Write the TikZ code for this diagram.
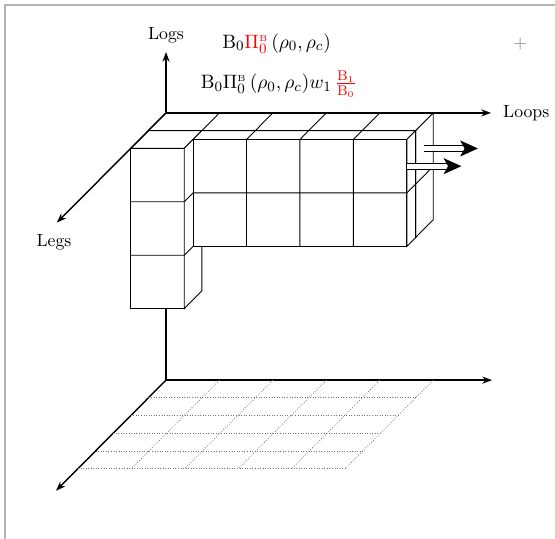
\documentclass[tikz,border=0pt]{standalone}
\usepackage{amsmath,amssymb}
\usetikzlibrary{arrows.meta}

\begin{document}
\begin{tikzpicture}[x={(30.2pt,0pt)},y={(-9.95pt,-10pt)},z={(0pt,30.2pt)},
  axis/.style={line width=.8pt,-{Stealth[length=5.5pt,width=4pt]}},
  face/.style={draw,fill=white,line width=.5pt},
  edge/.style={line width=.5pt},
  gridline/.style={black!55,densely dotted,line width=.45pt},
  flowline/.style={double,double distance=3pt,line width=.45pt,shorten >=8pt},
  flowhead/.style={line width=.45pt,-{Stealth[length=10pt,width=9pt,inset=2.5pt]}},
  formula/.style={font=\fontsize{11}{13}\selectfont}]
  \useasboundingbox (-93.8pt,-240.7pt) rectangle (219.8pt,63.8pt);
  \draw[gray!60,line width=.7pt] (-91pt,-240.7pt) -- (-91pt,61pt) -- (219.8pt,61pt);

  % axes
  \coordinate (O) at (0,0,0);
  \coordinate (Ob) at (0,0,-5);
  \coordinate (logsend) at (0,0,1.14);
  \coordinate (loopsend) at (6.08,0,0);
  \coordinate (legsend) at (0,6.2,0);
  \coordinate (loopsendb) at (6.1,0,-5);
  \coordinate (legsendb) at (0,6.25,-5);
  \draw[axis] (Ob) -- (logsend);
  \draw[axis] (Ob) -- (loopsendb);
  \draw[axis] (Ob) -- (legsendb);

  % bottom grid
  \foreach \d in {1,...,5} \draw[gridline] (0,\d,-5) -- (5,\d,-5);
  \foreach \l in {1,...,5} \draw[gridline] (\l,0,-5) -- (\l,5,-5);

  % back row
  \draw[face] (0,1,0) -- (5,1,0) -- (5,1,-2) -- (0,1,-2) -- cycle;
  \draw[face] (0,0,0) -- (5,0,0) -- (5,1,0) -- (0,1,0) -- cycle;
  \draw[face] (5,0,0) -- (5,1,0) -- (5,1,-2) -- (5,0,-2) -- cycle;
  \draw[edge] (1,0,0) -- (1,1,0) (2,0,0) -- (2,1,0) (3,0,0) -- (3,1,0) (4,0,0) -- (4,1,0);
  \draw[edge] (5,0,-1) -- (5,1,-1);

  % column
  \draw[face] (0,1,0) -- (1,1,0) -- (1,2,0) -- (0,2,0) -- cycle;
  \draw[face] (0,2,0) -- (1,2,0) -- (1,2,-3) -- (0,2,-3) -- cycle;
  \draw[face] (1,1,0) -- (1,2,0) -- (1,2,-3) -- (1,1,-3) -- cycle;
  \draw[edge] (0,2,-1) -- (1,2,-1) -- (1,1,-1);
  \draw[edge] (0,2,-2) -- (1,2,-2) -- (1,1,-2);

  % front row
  \draw[face] (1,1,0) -- (5,1,0) -- (5,1.5,0) -- (1,1.5,0) -- cycle;
  \draw[face] (1,1.5,0) -- (5,1.5,0) -- (5,1.5,-2) -- (1,1.5,-2) -- cycle;
  \draw[face] (5,1,0) -- (5,1.5,0) -- (5,1.5,-2) -- (5,1,-2) -- cycle;
  \draw[edge] (2,1,0) -- (2,1.5,0) -- (2,1.5,-2);
  \draw[edge] (3,1,0) -- (3,1.5,0) -- (3,1.5,-2);
  \draw[edge] (4,1,0) -- (4,1.5,0) -- (4,1.5,-2);
  \draw[edge] (1,1.5,-1) -- (5,1.5,-1) -- (5,1,-1);

  % top axes over the blocks
  \draw[axis] (O) -- (loopsend);
  \draw[axis] (O) -- (legsend);

  % flow arrows
  \coordinate (backstart) at (5,0.5,-0.5);
  \coordinate (backtip) at (6,0.5,-0.5);
  \coordinate (frontstart) at (5,1.5,-0.5);
  \coordinate (fronttip) at (6.02,1.5,-0.5);
  \draw[flowline] (backstart) -- (backtip);
  \draw[flowhead] ([xshift=-7.5pt]backtip) -- (backtip);
  \draw[flowline] (frontstart) -- (fronttip);
  \draw[flowhead] ([xshift=-7.5pt]fronttip) -- (fronttip);

  % labels
  \node (logs) at (0,0,1.45) {Logs};
  \node (loops) at (6.74,0,0) {Loops};
  \node (legs) at (0,6.36,-0.31) {Legs};
  \node (plus) at (6.63,0,1.29) {\textcolor{gray}{+}};
  \node[formula] (pione) at (2.07,0,1.30)
    {$\mathrm{B}_0\textcolor{red}{\Pi^{\scriptscriptstyle\mathrm{B}}_0}\,(\rho_0,\rho_c)$};
  \node[formula] (pitwo) at (2.11,0,0.54)
    {$\mathrm{B}_0\Pi^{\scriptscriptstyle\mathrm{B}}_0\,(\rho_0,\rho_c)w_1\,\textcolor{red}{\frac{\mathrm{B}_1}{\mathrm{B}_0}}$};
\end{tikzpicture}
\end{document}
